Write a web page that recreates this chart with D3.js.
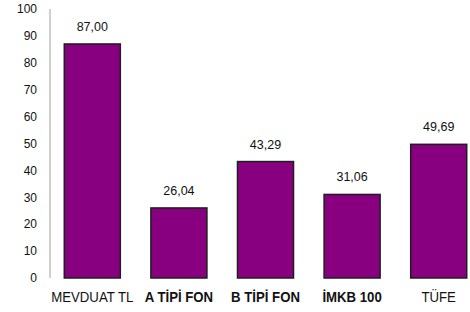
<!DOCTYPE html>
<html><head><meta charset="utf-8">
<script src="https://cdn.jsdelivr.net/npm/d3@7"></script>
<style>body{margin:0;background:#fff}svg{display:block}</style>
</head><body>
<script>
const categories = ["MEVDUAT TL", "A TİPİ FON", "B TİPİ FON", "İMKB 100", "TÜFE"];
const values = [87.00, 26.04, 43.29, 31.06, 49.69];
const boldCat = [false, true, true, true, false];
const yTicks = [0, 10, 20, 30, 40, 50, 60, 70, 80, 90, 100];

const W = 470, H = 312;
const svg = d3.select("body").append("svg").attr("width", W).attr("height", H);

const x = d3.scaleBand().domain(categories).range([49, 482]).paddingInner(0.353).paddingOuter(0.1765);
const y = d3.scaleLinear().domain([0, 100]).range([278, 9]);

svg.append("line").attr("x1", 50).attr("x2", 50).attr("y1", y(100)).attr("y2", y(0))
  .attr("stroke", "#a0a0a0").attr("stroke-width", 1);

svg.append("g").selectAll("text").data(yTicks).join("text")
  .attr("x", 37).attr("y", d => y(d)).attr("dy", "0.35em")
  .attr("text-anchor", "end")
  .attr("font-family", "Liberation Sans, Arial, sans-serif").attr("font-size", 12)
  .attr("fill", "#111").text(d => d);

const fmt = v => v.toFixed(2).replace(".", ",");

svg.append("g").selectAll("rect").data(values).join("rect")
  .attr("x", (d, i) => x(categories[i]))
  .attr("y", d => y(d))
  .attr("width", x.bandwidth())
  .attr("height", d => y(0) - y(d))
  .attr("fill", "#880080")
  .attr("stroke", "#1e1e1e").attr("stroke-width", 1.5);

svg.append("g").selectAll("text").data(values).join("text")
  .attr("x", (d, i) => x(categories[i]) + x.bandwidth() / 2)
  .attr("y", d => y(d) - 13)
  .attr("text-anchor", "middle")
  .attr("font-family", "Liberation Sans, Arial, sans-serif").attr("font-size", 12.5)
  .attr("fill", "#111").text(d => fmt(d));

svg.append("g").selectAll("text").data(categories).join("text")
  .attr("transform", d => `translate(${x(d) + x.bandwidth() / 2},302) scale(0.88,1)`)
  .attr("text-anchor", "middle")
  .attr("font-family", "Liberation Sans, Arial, sans-serif")
  .attr("font-size", 15)
  .attr("font-weight", (d, i) => boldCat[i] ? "bold" : "normal")
  .attr("fill", "#111").text(d => d);
</script>
</body></html>
